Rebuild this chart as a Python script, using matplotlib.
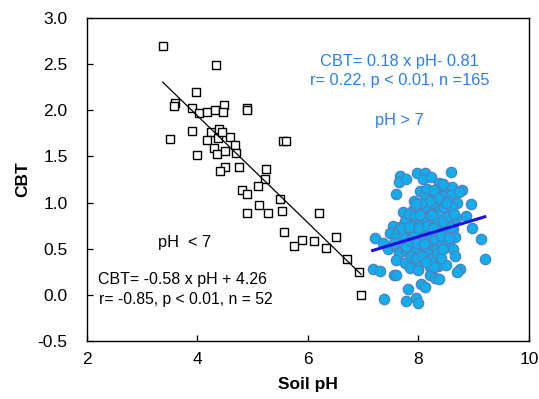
import matplotlib
matplotlib.use("Agg")
import matplotlib.pyplot as plt
import numpy as np

plt.rcParams['font.family'] = ['Liberation Sans', 'DejaVu Sans']

# Acidic soils (pH < 7) - open squares
acid_ph = [3.37, 4.34, 3.98, 3.60, 3.58, 3.90, 4.02, 4.18, 4.31, 4.48, 4.47, 4.90, 4.90,
           3.50, 3.90, 4.24, 4.39, 4.18, 4.38, 4.59, 4.68, 4.30, 4.35, 4.50, 4.70, 4.00,
           5.54, 5.61, 4.50, 4.40, 4.76, 5.24,
           5.23, 5.09, 4.81, 4.90, 5.50, 5.11, 4.90, 5.27, 5.53, 6.20, 5.57, 5.89, 5.74,
           6.10, 6.32, 6.50, 6.70, 6.92, 6.96, 4.45]
acid_cbt = [2.70, 2.49, 2.20, 2.08, 2.05, 2.02, 1.97, 1.98, 2.00, 2.06, 1.98, 2.02, 2.00,
            1.69, 1.78, 1.76, 1.80, 1.68, 1.70, 1.71, 1.62, 1.59, 1.53, 1.56, 1.54, 1.52,
            1.67, 1.67, 1.38, 1.34, 1.38, 1.36,
            1.26, 1.18, 1.14, 1.09, 1.04, 0.97, 0.89, 0.89, 0.91, 0.89, 0.68, 0.59, 0.53,
            0.58, 0.51, 0.63, 0.39, 0.25, 0.00, 1.76]

# Alkaline soils (pH > 7) - filled circles
alk_ph = [7.67, 7.64, 7.78, 7.97, 8.11, 8.08, 8.23, 8.59, 8.37, 8.39, 8.50, 8.61, 8.78, 7.60,
          8.02, 8.11, 7.91, 8.31, 8.45, 8.59, 8.74, 8.39, 8.54, 8.69, 8.95, 7.72, 7.90, 8.05,
          8.23, 8.38, 8.56, 8.86, 8.68, 7.84, 7.96, 8.14, 8.32, 7.54, 7.66, 7.87, 8.02, 8.20,
          8.35, 8.50, 8.62, 8.96, 7.48, 7.63, 7.81, 7.96, 8.11, 8.29, 8.47, 8.62, 7.21, 7.36,
          7.66, 7.81, 7.96, 8.14, 8.32, 8.50, 8.67, 9.14, 7.45, 7.60, 7.72, 7.90, 8.05, 8.23,
          8.35, 8.56, 7.65, 7.78, 7.96, 8.11, 8.29, 8.62, 7.60, 7.75, 7.90, 8.02, 8.20, 8.32,
          8.67, 9.20, 7.17, 7.30, 7.84, 7.99, 8.20, 8.35, 8.49, 8.75, 8.69, 7.55, 7.59, 8.20,
          8.29, 8.38, 8.04, 8.11, 7.81, 7.38, 7.78, 7.96, 7.99,
          7.75, 7.82, 7.88, 7.93, 8.00, 8.05, 8.08, 8.12, 8.15, 8.18, 8.22, 8.25, 8.27, 8.30,
          8.33, 8.36, 8.40, 8.42, 8.44, 8.47, 8.52, 8.55, 8.58, 7.70, 7.78, 7.85, 7.92, 7.98,
          8.02, 8.10, 8.16, 8.24, 8.28, 8.34, 8.40, 8.45, 7.86, 7.95, 8.06, 8.13, 7.70, 7.58,
          7.55, 8.60, 8.64, 8.50, 8.35, 8.20, 8.05, 7.95, 8.15, 8.45, 8.28, 8.00, 8.26, 8.41,
          8.56, 7.82]
alk_cbt = [1.29, 1.22, 1.26, 1.32, 1.32, 1.25, 1.28, 1.33, 1.21, 1.16, 1.12, 1.17, 1.14, 1.09,
           1.12, 1.09, 1.02, 1.09, 1.07, 1.08, 1.11, 1.02, 1.02, 1.00, 0.98, 0.90, 0.92, 0.91,
           0.92, 0.93, 0.92, 0.85, 0.83, 0.82, 0.83, 0.83, 0.85, 0.75, 0.74, 0.76, 0.78, 0.78,
           0.76, 0.78, 0.78, 0.72, 0.67, 0.68, 0.69, 0.69, 0.71, 0.71, 0.71, 0.71, 0.62, 0.56,
           0.62, 0.60, 0.62, 0.63, 0.63, 0.62, 0.63, 0.61, 0.50, 0.53, 0.56, 0.53, 0.54, 0.54,
           0.56, 0.56, 0.45, 0.47, 0.47, 0.49, 0.49, 0.50, 0.38, 0.34, 0.38, 0.34, 0.38, 0.38,
           0.42, 0.39, 0.28, 0.26, 0.29, 0.27, 0.30, 0.31, 0.32, 0.28, 0.25, 0.21, 0.21, 0.22,
           0.18, 0.17, 0.12, 0.09, 0.06, -0.05, -0.07, -0.03, -0.09,
           0.80, 0.88, 0.70, 0.86, 0.95, 0.62, 0.84, 0.96, 0.75, 0.58, 0.66, 0.86, 1.00, 0.60,
           0.78, 0.68, 0.88, 0.55, 0.80, 0.95, 0.66, 0.85, 0.74, 0.64, 0.52, 0.58, 0.64, 0.56,
           0.86, 0.55, 0.45, 0.40, 0.30, 0.44, 0.40, 0.50, 0.42, 0.40, 0.42, 0.36, 0.72, 0.62,
           0.56, 0.95, 0.88, 1.00, 1.05, 1.02, 1.00, 0.98, 1.15, 1.20, 1.14, 0.72, 0.72, 0.64,
           0.62, 0.74]

acid_slope, acid_intercept = -0.58, 4.26
alk_slope, alk_intercept = 0.18, -0.81

x_ticks = [2, 4, 6, 8, 10]
y_ticks = [-0.5, 0.0, 0.5, 1.0, 1.5, 2.0, 2.5, 3.0]

fig = plt.figure(figsize=(5.39, 3.99), dpi=100)
ax = fig.add_axes([0.1614, 0.1454, 0.8200, 0.8095])

ax.scatter(alk_ph, alk_cbt, s=56, marker='o', facecolor='#11AEEB',
           edgecolor='#5080C0', linewidth=0.9, zorder=2)
ax.scatter(acid_ph, acid_cbt, s=32, marker='s', facecolor='white',
           edgecolor='black', linewidth=1.0, zorder=3)

xa = np.array([min(acid_ph), max(acid_ph)])
ax.plot(xa, acid_slope * xa + acid_intercept, color='black', linewidth=0.9, zorder=4)
xb = np.array([min(alk_ph), max(alk_ph)])
ax.plot(xb, alk_slope * xb + alk_intercept, color='#1A10E6', linewidth=2.2, zorder=4)

ax.set_xlim(2, 10)
ax.set_ylim(-0.5, 3.0)
ax.set_xticks(x_ticks)
ax.set_xticklabels([str(v) for v in x_ticks])
ax.set_yticks(y_ticks)
ax.set_yticklabels([f"{v:.1f}" for v in y_ticks])
ax.tick_params(direction='in', length=4, width=0.9, labelsize=12.5, colors='black')
ax.tick_params(axis='y', pad=14)
ax.tick_params(axis='x', pad=8)
for sp in ax.spines.values():
    sp.set_linewidth(1.0)
    sp.set_color('black')

ax.set_xlabel('Soil pH', fontsize=12.5, fontweight='bold', labelpad=7)
ax.set_ylabel('CBT', fontsize=12.5, fontweight='bold', labelpad=5)

blue = '#2D7FE8'
fs = 11.8
ax.text(7.66, 2.53, 'CBT= 0.18 x pH- 0.81', color=blue, fontsize=fs, ha='center', va='center')
ax.text(7.66, 2.32, 'r= 0.22, p < 0.01, n =165', color=blue, fontsize=fs, ha='center', va='center')
ax.text(7.66, 1.89, 'pH > 7', color=blue, fontsize=fs, ha='center', va='center')
ax.text(3.77, 0.57, 'pH  < 7', color='black', fontsize=fs, ha='center', va='center')
ax.text(3.72, 0.17, 'CBT= -0.58 x pH + 4.26', color='black', fontsize=11.5, ha='center', va='center')
ax.text(3.78, -0.05, 'r= -0.85, p < 0.01, n = 52', color='black', fontsize=11.3, ha='center', va='center')

fig.savefig('out.png', dpi=100)
